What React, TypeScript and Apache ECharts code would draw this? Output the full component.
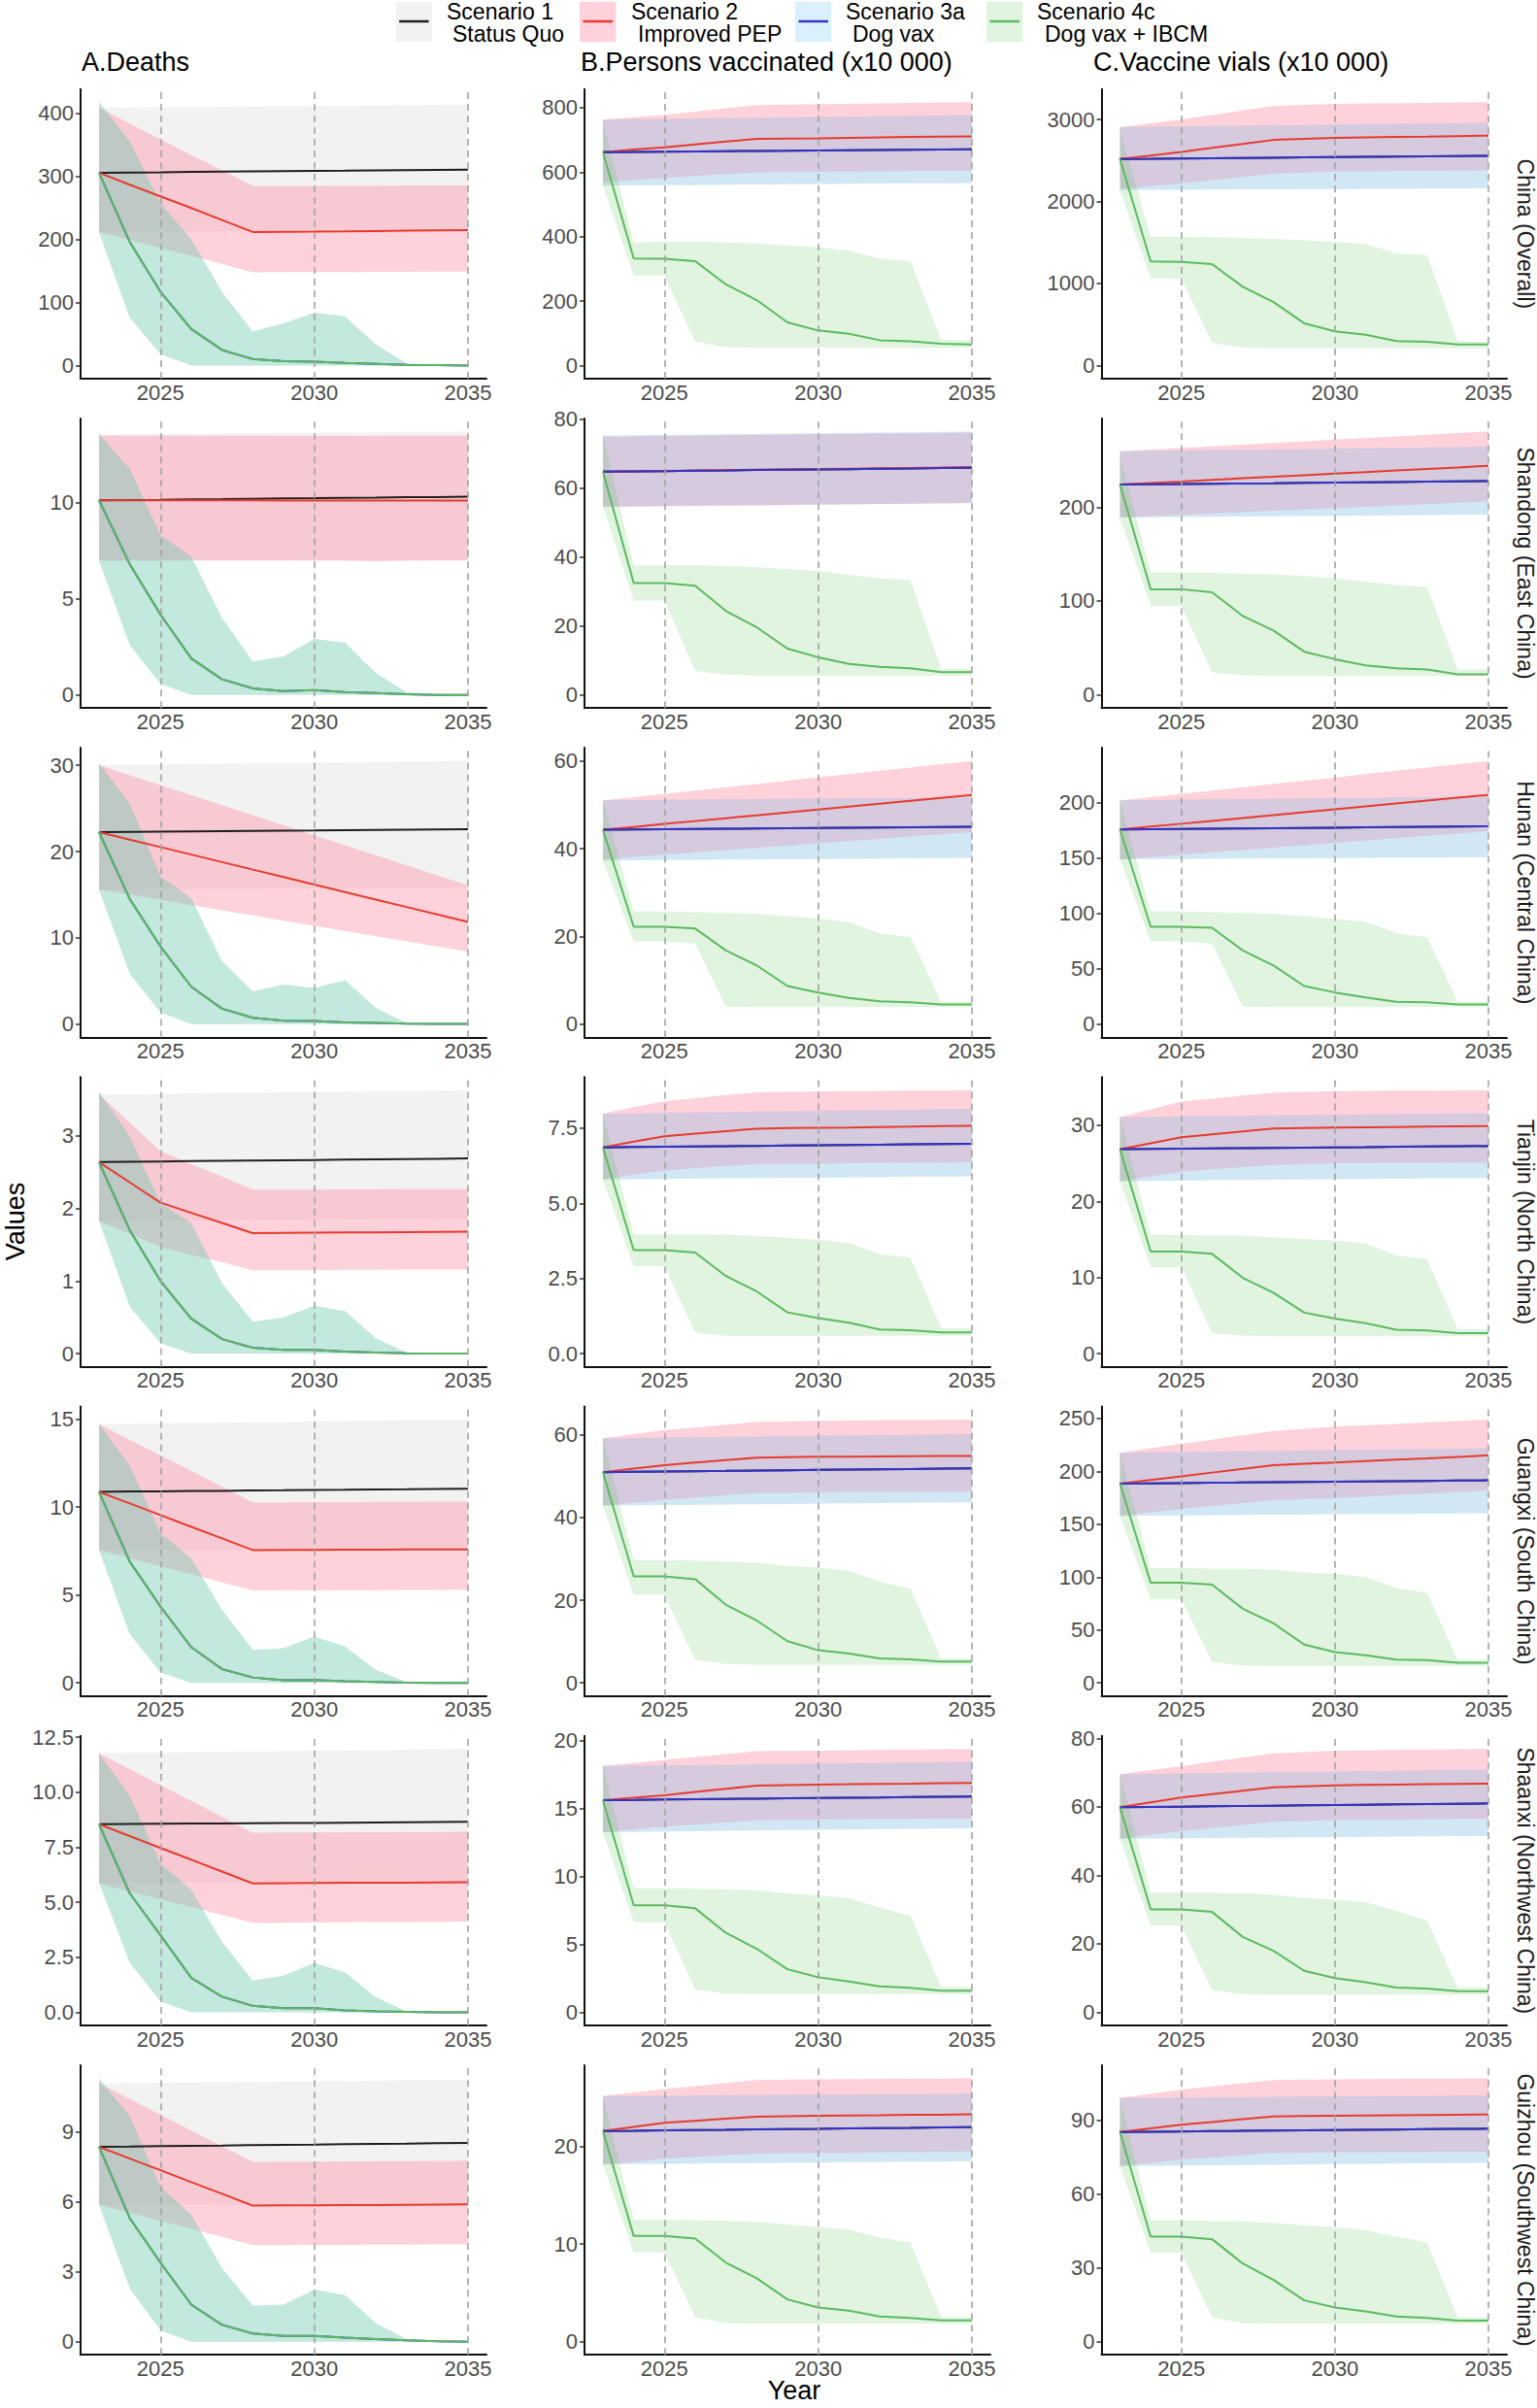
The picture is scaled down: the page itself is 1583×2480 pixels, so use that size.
import React, { useEffect, useRef } from "react";
import * as echarts from "echarts";

// ---------------- DATA ----------------
// Each scenario constant: [mean[], lower[], upper[]] for years 2023..2035
const YEARS = [2023, 2024, 2025, 2026, 2027, 2028, 2029, 2030, 2031, 2032, 2033, 2034, 2035];
const X_TICKS = [2025, 2030, 2035];
const REGIONS = [
  "China (Overall)",
  "Shandong (East China)",
  "Hunan (Central China)",
  "Tianjin (North China)",
  "Guangxi (South China)",
  "Shaanxi (Northwest China)",
  "Guizhou (Southwest China)",
];
const COLUMN_TITLES = ["A.Deaths", "B.Persons vaccinated (x10 000)", "C.Vaccine vials (x10 000)"];
const SCENARIO_LINE1 = ["Scenario 1", "Scenario 2", "Scenario 3a", "Scenario 4c"];
const SCENARIO_LINE2 = ["Status Quo", "Improved PEP", "Dog vax", "Dog vax + IBCM"];

const DEATH_TICKS = [[0, 100, 200, 300, 400], [0, 5, 10], [0, 10, 20, 30], [0, 1, 2, 3], [0, 5, 10, 15], [0, 2.5, 5, 7.5, 10, 12.5], [0, 3, 6, 9]];
const PERSON_TICKS = [[0, 200, 400, 600, 800], [0, 20, 40, 60, 80], [0, 20, 40, 60], [0, 2.5, 5, 7.5], [0, 20, 40, 60], [0, 5, 10, 15, 20], [0, 10, 20]];
const VIAL_TICKS = [[0, 1000, 2000, 3000], [0, 100, 200], [0, 50, 100, 150, 200, 250], [0, 10, 20, 30], [0, 50, 100, 150, 200, 250], [0, 20, 40, 60, 80], [0, 30, 60, 90]];

// ---- China ----
const CN_D_S1 = [
  [306, 306.4, 306.8, 307.3, 307.7, 308.1, 308.5, 308.9, 309.3, 309.8, 310.2, 310.6, 311],
  [212, 212.3, 212.5, 212.8, 213, 213.3, 213.5, 213.8, 214, 214.3, 214.5, 214.8, 215],
  [409, 409.4, 409.9, 410.3, 410.7, 411.2, 411.6, 412, 412.4, 412.9, 413.3, 413.7, 414],
];
const CN_D_S2 = [
  [306, 287, 268.5, 250, 231, 212, 212.3, 212.6, 213, 213.5, 214, 214.5, 215],
  [212, 199, 186.5, 174, 161, 148, 148.1, 148.3, 148.4, 148.6, 148.7, 148.9, 149],
  [409, 384, 359, 334, 310, 285, 285, 285.2, 285.4, 285.6, 285.8, 286, 286],
];
const CN_D_S34 = [
  [306, 196, 117, 58, 24.7, 10.3, 6.7, 6.2, 4, 2.6, 1, 0.5, 0],
  [211, 76, 18, 0, 0, 0, 0, 0, 0, 0, 0, 0, 0],
  [418, 355.7, 257, 200.5, 116.7, 54, 67, 84, 78, 33.4, 3.6, 1, 0],
];
const CN_P_S13 = [
  [662, 662.8, 663.5, 664.3, 665, 665.8, 666.5, 667.3, 668, 668.8, 669.5, 670.3, 671],
  [558.5, 559.2, 559.8, 560.5, 561.2, 561.8, 562.5, 563.2, 563.8, 564.5, 565.2, 565.8, 566.5],
  [763, 764.2, 765.3, 766.5, 767.7, 768.8, 770, 771.2, 772.3, 773.5, 774.7, 775.8, 777],
];
const CN_P_S2 = [
  [662, 670, 677, 686, 695, 703, 704, 705, 706.5, 708, 709, 710, 711],
  [568, 575, 582, 588, 594, 599, 600, 601, 601.5, 602, 603, 603.5, 604],
  [763, 770, 778, 788, 798, 808, 809.5, 811, 812, 813.5, 815, 816, 817],
];
const CN_P_S4 = [
  [662, 332, 331, 324, 251.6, 203, 134, 108.7, 98.6, 78.5, 75.5, 67.4, 65.4],
  [558, 279, 279, 74, 57, 55, 55, 55, 55, 55, 55, 55, 55],
  [757, 382, 384, 385, 382, 379, 372, 367, 357, 332, 324, 80, 78.5],
];
const CN_V_S13 = [
  [2517, 2520, 2524, 2527, 2530, 2533, 2537, 2540, 2543, 2546, 2550, 2553, 2556],
  [2140, 2142, 2143, 2145, 2147, 2148, 2150, 2152, 2153, 2155, 2157, 2158, 2160],
  [2905, 2910, 2914, 2919, 2923, 2928, 2933, 2937, 2942, 2946, 2951, 2955, 2960],
];
const CN_V_S2 = [
  [2517, 2560, 2604, 2653, 2701, 2750, 2762, 2774, 2780, 2786, 2791, 2797, 2802],
  [2155, 2187, 2219, 2259, 2298, 2338, 2352, 2366, 2368, 2371, 2373, 2376, 2378],
  [2905, 2952, 3000, 3054, 3109, 3163, 3177, 3190, 3194, 3198, 3202, 3206, 3210],
];
const CN_V_S4 = [
  [2517, 1268, 1264, 1236, 960, 773, 515, 416, 376, 297, 289, 258, 258],
  [2140, 1058, 1058, 277, 218, 210, 210, 210, 210, 210, 210, 210, 210],
  [2873, 1569, 1569, 1565, 1557, 1545, 1526, 1506, 1486, 1367, 1347, 297, 289],
];

// ---- Shandong ----
const SD_D_S1 = [
  [10.13, 10.15, 10.16, 10.18, 10.19, 10.21, 10.23, 10.24, 10.26, 10.27, 10.29, 10.3, 10.32],
  [7.0, 7.0, 7.0, 7.01, 7.01, 7.01, 7.02, 7.02, 7.02, 7.02, 7.03, 7.03, 7.03],
  [13.57, 13.58, 13.59, 13.6, 13.62, 13.63, 13.64, 13.65, 13.66, 13.67, 13.69, 13.7, 13.71],
];
const SD_D_S2 = [
  [10.13, 10.13, 10.13, 10.13, 10.13, 10.13, 10.12, 10.12, 10.12, 10.12, 10.12, 10.12, 10.12],
  [7.0, 7.0, 7.0, 7.0, 7.0, 7.0, 7.0, 6.99, 6.98, 6.96, 6.98, 7.0, 7.0],
  [13.49, 13.49, 13.49, 13.49, 13.49, 13.49, 13.49, 13.49, 13.49, 13.49, 13.49, 13.49, 13.49],
];
const SD_D_S34 = [
  [10.13, 6.8, 4.18, 1.9, 0.81, 0.34, 0.2, 0.25, 0.15, 0.1, 0.03, 0, 0],
  [7.0, 2.58, 0.56, 0, 0, 0, 0, 0, 0, 0, 0, 0, 0],
  [13.57, 11.77, 8.31, 7.2, 4.0, 1.74, 2.0, 2.92, 2.71, 1.15, 0.13, 0.02, 0],
];
const SD_P_S13 = [
  [64.66, 64.76, 64.85, 64.95, 65.04, 65.14, 65.23, 65.33, 65.42, 65.52, 65.61, 65.71, 65.8],
  [54.6, 54.68, 54.77, 54.85, 54.93, 55.02, 55.1, 55.18, 55.27, 55.35, 55.43, 55.52, 55.6],
  [75.1, 75.2, 75.3, 75.4, 75.5, 75.6, 75.7, 75.8, 75.9, 76.0, 76.1, 76.2, 76.3],
];
const SD_P_S2 = [
  [64.66, 64.77, 64.88, 64.99, 65.1, 65.22, 65.33, 65.44, 65.55, 65.66, 65.77, 65.88, 66.0],
  [54.4, 54.5, 54.6, 54.7, 54.8, 54.9, 55.0, 55.1, 55.2, 55.3, 55.4, 55.5, 55.6],
  [74.8, 74.9, 75.0, 75.1, 75.2, 75.3, 75.4, 75.5, 75.6, 75.7, 75.8, 75.9, 76.0],
];
const SD_P_S4 = [
  [64.66, 32.4, 32.4, 31.6, 24.3, 19.6, 13.4, 10.9, 9.0, 8.1, 7.7, 6.6, 6.6],
  [54.6, 27.3, 27.3, 6.9, 5.9, 5.5, 5.5, 5.5, 5.5, 5.5, 5.5, 5.5, 5.5],
  [75, 37.7, 37.7, 37.6, 37.3, 37.0, 36.5, 35.9, 34.8, 33.7, 33.4, 7.5, 7.5],
];
const SD_V_S13 = [
  [224, 224.3, 224.6, 224.9, 225.2, 225.5, 225.9, 226.2, 226.5, 226.8, 227.1, 227.4, 227.7],
  [189, 189.3, 189.5, 189.8, 190, 190.3, 190.5, 190.8, 191, 191.3, 191.5, 191.8, 192],
  [259.5, 259.9, 260.3, 260.7, 261.1, 261.5, 261.9, 262.3, 262.7, 263.1, 263.5, 263.9, 264.5],
];
const SD_V_S2 = [
  [224, 225.7, 227.3, 229, 230.7, 232.3, 234, 235.7, 237.3, 239, 240.7, 242.3, 244],
  [189, 190.4, 191.8, 193.3, 194.7, 196.1, 197.5, 198.9, 200.3, 201.8, 203.2, 204.6, 206],
  [259.5, 261.3, 263, 264.8, 266.5, 268.3, 270, 271.8, 273.5, 275.3, 277, 278.8, 280.5],
];
const SD_V_S4 = [
  [224, 112.5, 112.5, 109.3, 84, 68.5, 46, 38, 31.5, 28.4, 27, 21.8, 21.8],
  [189, 94.8, 94.8, 24, 20.8, 20, 20, 20, 20, 20, 20, 20, 20],
  [255, 130.4, 130.4, 130, 129, 128.4, 126.6, 123.9, 120.4, 117, 115, 27, 27],
];

// ---- Hunan ----
const HN_D_S1 = [
  [22.25, 22.28, 22.31, 22.34, 22.37, 22.4, 22.43, 22.45, 22.48, 22.51, 22.54, 22.57, 22.6],
  [15.6, 15.62, 15.63, 15.65, 15.67, 15.68, 15.7, 15.72, 15.73, 15.75, 15.77, 15.78, 15.8],
  [30.0, 30.04, 30.08, 30.13, 30.17, 30.21, 30.25, 30.29, 30.33, 30.38, 30.42, 30.46, 30.5],
];
const HN_D_S2 = [
  [22.25, 21.38, 20.52, 19.65, 18.78, 17.91, 17.05, 16.18, 15.31, 14.44, 13.58, 12.71, 11.84],
  [15.6, 15.0, 14.4, 13.8, 13.2, 12.6, 12.0, 11.4, 10.8, 10.2, 9.6, 9.0, 8.4],
  [30.0, 28.84, 27.68, 26.53, 25.37, 24.21, 23.05, 21.89, 20.73, 19.58, 18.42, 17.26, 16.1],
];
const HN_D_S34 = [
  [22.25, 14.5, 9.0, 4.34, 1.8, 0.75, 0.41, 0.37, 0.22, 0.15, 0.07, 0.04, 0.03],
  [15.6, 5.84, 1.35, 0, 0, 0, 0, 0, 0, 0, 0, 0, 0],
  [30.2, 25.5, 17.1, 14.6, 7.3, 3.8, 4.6, 4.2, 5.1, 1.9, 0.15, 0.05, 0],
];
const HN_P_S13 = [
  [44.3, 44.36, 44.42, 44.48, 44.53, 44.59, 44.65, 44.71, 44.77, 44.83, 44.88, 44.94, 45.0],
  [37.3, 37.35, 37.4, 37.45, 37.5, 37.55, 37.6, 37.65, 37.7, 37.75, 37.8, 37.85, 37.9],
  [51.0, 51.06, 51.12, 51.18, 51.23, 51.29, 51.35, 51.41, 51.47, 51.53, 51.58, 51.64, 51.7],
];
const HN_P_S2 = [
  [44.3, 44.96, 45.63, 46.29, 46.95, 47.61, 48.28, 48.94, 49.6, 50.26, 50.93, 51.59, 52.25],
  [37.6, 38.12, 38.63, 39.15, 39.67, 40.18, 40.7, 41.22, 41.73, 42.25, 42.77, 43.28, 43.8],
  [51, 51.75, 52.5, 53.25, 54, 54.75, 55.5, 56.25, 57, 57.75, 58.5, 59.25, 60],
];
const HN_P_S4 = [
  [44.3, 22.2, 22.2, 21.8, 16.8, 13.4, 8.7, 7.2, 6.0, 5.2, 5.0, 4.5, 4.5],
  [37.3, 18.9, 18.9, 18.4, 4.0, 3.9, 3.9, 3.9, 3.9, 3.9, 3.9, 3.9, 3.9],
  [51, 25.7, 25.7, 25.5, 25.4, 25.2, 24.6, 24.1, 23.3, 20.7, 19.9, 5.1, 5.1],
];
const HN_V_S13 = [
  [176, 176.24, 176.48, 176.73, 176.97, 177.21, 177.45, 177.69, 177.93, 178.18, 178.42, 178.66, 178.9],
  [149, 149.17, 149.33, 149.5, 149.67, 149.83, 150, 150.17, 150.33, 150.5, 150.67, 150.83, 151],
  [202.3, 202.6, 202.9, 203.2, 203.5, 203.8, 204.1, 204.3, 204.6, 204.9, 205.2, 205.5, 205.8],
];
const HN_V_S2 = [
  [176, 178.6, 181.2, 183.8, 186.4, 189, 191.7, 194.3, 196.9, 199.5, 202.1, 204.7, 207.3],
  [149, 151.1, 153.3, 155.4, 157.5, 159.6, 161.8, 163.9, 166, 168.1, 170.3, 172.4, 174.5],
  [202.3, 205.3, 208.3, 211.2, 214.2, 217.2, 220.2, 223.1, 226.1, 229.1, 232.1, 235, 238],
];
const HN_V_S4 = [
  [176, 88.1, 88.1, 87.2, 66.7, 53, 34.5, 28.7, 24.3, 20.2, 19.9, 17.9, 17.9],
  [149, 74.9, 74.9, 72.9, 15.8, 15.5, 15.5, 15.5, 15.5, 15.5, 15.5, 15.5, 15.5],
  [202, 101.9, 101.9, 101.3, 100.7, 99.8, 97.8, 95.4, 92.5, 82.3, 78.7, 20.2, 20.2],
];

// ---- Tianjin ----
const TJ_D_S1 = [
  [2.64, 2.644, 2.648, 2.653, 2.657, 2.661, 2.665, 2.669, 2.673, 2.678, 2.682, 2.686, 2.69],
  [1.83, 1.833, 1.835, 1.838, 1.84, 1.843, 1.845, 1.848, 1.85, 1.853, 1.855, 1.858, 1.86],
  [3.57, 3.575, 3.58, 3.585, 3.59, 3.595, 3.6, 3.605, 3.61, 3.615, 3.62, 3.625, 3.63],
];
const TJ_D_S2 = [
  [2.64, 2.36, 2.08, 1.94, 1.8, 1.66, 1.663, 1.666, 1.669, 1.671, 1.674, 1.677, 1.68],
  [1.82, 1.65, 1.47, 1.36, 1.26, 1.15, 1.15, 1.15, 1.155, 1.155, 1.16, 1.16, 1.16],
  [3.57, 3.18, 2.79, 2.61, 2.44, 2.26, 2.26, 2.26, 2.265, 2.265, 2.27, 2.27, 2.27],
];
const TJ_D_S34 = [
  [2.64, 1.7, 1.0, 0.48, 0.2, 0.08, 0.05, 0.05, 0.027, 0.013, 0.005, 0, 0],
  [1.83, 0.65, 0.14, 0, 0, 0, 0, 0, 0, 0, 0, 0, 0],
  [3.61, 2.99, 2.07, 1.8, 0.97, 0.44, 0.5, 0.66, 0.585, 0.21, 0.013, 0, 0],
];
const TJ_P_S13 = [
  [6.86, 6.87, 6.88, 6.89, 6.9, 6.91, 6.92, 6.93, 6.94, 6.95, 6.96, 6.97, 6.98],
  [5.79, 5.8, 5.81, 5.82, 5.83, 5.84, 5.85, 5.85, 5.86, 5.87, 5.88, 5.89, 5.9],
  [7.98, 7.99, 8.01, 8.02, 8.03, 8.05, 8.06, 8.07, 8.09, 8.1, 8.11, 8.13, 8.14],
];
const TJ_P_S2 = [
  [6.86, 7.05, 7.23, 7.32, 7.4, 7.48, 7.5, 7.51, 7.52, 7.54, 7.55, 7.57, 7.58],
  [5.79, 5.95, 6.08, 6.17, 6.24, 6.3, 6.31, 6.32, 6.33, 6.34, 6.35, 6.36, 6.37],
  [7.98, 8.2, 8.39, 8.5, 8.6, 8.69, 8.71, 8.72, 8.73, 8.74, 8.75, 8.75, 8.76],
];
const TJ_P_S4 = [
  [6.86, 3.44, 3.44, 3.36, 2.58, 2.07, 1.37, 1.18, 1.03, 0.8, 0.78, 0.7, 0.7],
  [5.79, 2.91, 2.91, 0.7, 0.59, 0.59, 0.59, 0.59, 0.59, 0.59, 0.59, 0.59, 0.59],
  [7.98, 3.97, 3.97, 3.97, 3.95, 3.92, 3.85, 3.79, 3.68, 3.3, 3.2, 0.84, 0.84],
];
const TJ_V_S13 = [
  [26.85, 26.89, 26.92, 26.96, 26.99, 27.03, 27.06, 27.1, 27.13, 27.17, 27.2, 27.24, 27.27],
  [22.66, 22.7, 22.73, 22.77, 22.8, 22.84, 22.88, 22.91, 22.95, 22.98, 23.02, 23.05, 23.09],
  [31.07, 31.11, 31.16, 31.2, 31.25, 31.29, 31.34, 31.38, 31.42, 31.47, 31.51, 31.56, 31.6],
];
const TJ_V_S2 = [
  [26.85, 27.64, 28.43, 28.81, 29.2, 29.58, 29.64, 29.7, 29.74, 29.78, 29.82, 29.86, 29.9],
  [22.66, 23.28, 23.9, 24.2, 24.5, 24.8, 24.9, 25.0, 25.02, 25.04, 25.06, 25.08, 25.1],
  [31.07, 32.09, 33.1, 33.5, 33.9, 34.3, 34.4, 34.5, 34.52, 34.54, 34.56, 34.58, 34.6],
];
const TJ_V_S4 = [
  [26.85, 13.4, 13.4, 13.1, 9.95, 8.0, 5.38, 4.6, 4.0, 3.12, 3.03, 2.7, 2.7],
  [22.66, 11.35, 11.35, 2.7, 2.35, 2.26, 2.26, 2.26, 2.26, 2.26, 2.26, 2.26, 2.26],
  [31.07, 15.6, 15.6, 15.5, 15.5, 15.25, 15.05, 14.85, 14.5, 12.9, 12.4, 3.2, 3.2],
];

// ---- Guangxi ----
const GX_D_S1 = [
  [10.87, 10.89, 10.9, 10.92, 10.93, 10.95, 10.96, 10.98, 10.99, 11.01, 11.02, 11.04, 11.05],
  [7.56, 7.56, 7.57, 7.57, 7.57, 7.58, 7.58, 7.58, 7.59, 7.59, 7.59, 7.6, 7.6],
  [14.72, 14.74, 14.76, 14.79, 14.81, 14.83, 14.85, 14.87, 14.89, 14.92, 14.94, 14.96, 14.98],
];
const GX_D_S2 = [
  [10.87, 10.21, 9.55, 8.88, 8.22, 7.56, 7.57, 7.57, 7.58, 7.58, 7.59, 7.59, 7.6],
  [7.56, 7.1, 6.64, 6.18, 5.72, 5.26, 5.27, 5.27, 5.28, 5.28, 5.29, 5.29, 5.3],
  [14.72, 13.83, 12.94, 12.06, 11.17, 10.28, 10.28, 10.29, 10.29, 10.3, 10.3, 10.31, 10.31],
];
const GX_D_S34 = [
  [10.87, 6.9, 4.34, 2.03, 0.79, 0.31, 0.15, 0.17, 0.09, 0.06, 0.02, 0, 0],
  [7.56, 2.77, 0.59, 0, 0, 0, 0, 0, 0, 0, 0, 0, 0],
  [14.72, 12.36, 8.52, 7.1, 4.15, 1.88, 1.97, 2.64, 2.07, 0.74, 0.06, 0, 0],
];
const GX_P_S13 = [
  [51.0, 51.08, 51.15, 51.23, 51.3, 51.38, 51.45, 51.53, 51.6, 51.68, 51.75, 51.83, 51.9],
  [42.9, 42.97, 43.03, 43.1, 43.17, 43.23, 43.3, 43.37, 43.43, 43.5, 43.57, 43.63, 43.7],
  [59.2, 59.28, 59.37, 59.45, 59.53, 59.62, 59.7, 59.78, 59.87, 59.95, 60.03, 60.12, 60.2],
];
const GX_P_S2 = [
  [51.0, 51.85, 52.7, 53.3, 53.9, 54.5, 54.6, 54.7, 54.75, 54.8, 54.85, 54.9, 54.9],
  [42.9, 43.6, 44.3, 44.8, 45.4, 45.9, 46.0, 46.1, 46.14, 46.18, 46.22, 46.26, 46.3],
  [59.2, 60.2, 61.2, 61.8, 62.5, 63.1, 63.25, 63.4, 63.46, 63.52, 63.58, 63.64, 63.7],
];
const GX_P_S4 = [
  [51.0, 25.76, 25.76, 25.1, 18.9, 15.1, 10.1, 7.9, 7.1, 5.95, 5.7, 5.17, 5.17],
  [42.9, 21.4, 21.4, 5.56, 4.6, 4.4, 4.4, 4.4, 4.4, 4.4, 4.4, 4.4, 4.4],
  [59.2, 29.7, 29.7, 29.6, 29.4, 29.05, 28.3, 27.9, 27.1, 24.5, 22.8, 5.95, 5.95],
];
const GX_V_S13 = [
  [188.5, 188.76, 189.02, 189.28, 189.53, 189.79, 190.05, 190.31, 190.57, 190.83, 191.08, 191.34, 191.6],
  [158, 158.2, 158.4, 158.6, 158.8, 159, 159.25, 159.45, 159.65, 159.85, 160.1, 160.3, 160.5],
  [217.7, 218.1, 218.4, 218.8, 219.1, 219.5, 219.9, 220.2, 220.6, 220.9, 221.3, 221.6, 222],
];
const GX_V_S2 = [
  [188.5, 191.9, 195.3, 198.9, 202.4, 206, 207.3, 208.5, 209.8, 211.1, 212.4, 213.8, 215.2],
  [158, 161.3, 164.5, 167.3, 170, 172.8, 173.8, 174.7, 176.2, 177.6, 179.1, 180.5, 182],
  [217.7, 221.9, 226, 230.1, 234.2, 238.3, 240.3, 242.3, 243.6, 245, 246.3, 247.7, 249],
];
const GX_V_S4 = [
  [188.5, 94.7, 94.7, 92.9, 70.1, 56.3, 36.3, 29.2, 26.1, 22.1, 21.5, 19.1, 19.1],
  [158, 79, 79, 20, 16.3, 16, 16, 16, 16, 16, 16, 16, 16],
  [217.7, 108.5, 108.5, 108.2, 108, 107, 104.5, 103, 100, 89.8, 85.2, 22.1, 22.1],
];

// ---- Shaanxi ----
const SX_D_S1 = [
  [8.54, 8.55, 8.56, 8.57, 8.58, 8.59, 8.6, 8.6, 8.61, 8.62, 8.63, 8.64, 8.65],
  [5.88, 5.88, 5.88, 5.89, 5.89, 5.89, 5.89, 5.89, 5.89, 5.9, 5.9, 5.9, 5.9],
  [11.76, 11.78, 11.79, 11.81, 11.83, 11.84, 11.86, 11.88, 11.89, 11.91, 11.93, 11.94, 11.96],
];
const SX_D_S2 = [
  [8.54, 8.0, 7.46, 6.93, 6.39, 5.85, 5.86, 5.87, 5.88, 5.89, 5.89, 5.9, 5.91],
  [5.85, 5.49, 5.13, 4.78, 4.42, 4.06, 4.07, 4.08, 4.09, 4.1, 4.1, 4.11, 4.12],
  [11.76, 11.04, 10.32, 9.6, 8.88, 8.16, 8.17, 8.17, 8.18, 8.18, 8.19, 8.19, 8.2],
];
const SX_D_S34 = [
  [8.54, 5.4, 3.5, 1.56, 0.71, 0.29, 0.19, 0.19, 0.09, 0.04, 0.015, 0, 0],
  [5.88, 2.25, 0.49, 0, 0, 0, 0, 0, 0, 0, 0, 0, 0],
  [11.76, 9.82, 6.74, 5.56, 3.2, 1.44, 1.66, 2.25, 1.81, 0.68, 0.04, 0, 0],
];
const SX_P_S13 = [
  [15.63, 15.65, 15.68, 15.7, 15.72, 15.74, 15.77, 15.79, 15.81, 15.83, 15.86, 15.88, 15.9],
  [13.27, 13.29, 13.32, 13.34, 13.37, 13.39, 13.42, 13.44, 13.46, 13.49, 13.51, 13.54, 13.56],
  [18.14, 18.17, 18.19, 18.22, 18.24, 18.27, 18.3, 18.32, 18.35, 18.37, 18.4, 18.42, 18.45],
];
const SX_P_S2 = [
  [15.63, 15.81, 15.99, 16.23, 16.46, 16.7, 16.74, 16.78, 16.8, 16.83, 16.85, 16.88, 16.9],
  [13.27, 13.48, 13.68, 13.84, 13.99, 14.15, 14.18, 14.2, 14.21, 14.23, 14.24, 14.26, 14.27],
  [18.14, 18.37, 18.6, 18.81, 19.03, 19.24, 19.26, 19.28, 19.3, 19.33, 19.35, 19.38, 19.4],
];
const SX_P_S4 = [
  [15.63, 7.88, 7.88, 7.66, 5.85, 4.68, 3.17, 2.58, 2.27, 1.91, 1.81, 1.58, 1.58],
  [13.27, 6.63, 6.63, 1.67, 1.38, 1.34, 1.34, 1.34, 1.34, 1.34, 1.34, 1.34, 1.34],
  [18.14, 9.14, 9.14, 9.12, 9.07, 8.97, 8.78, 8.6, 8.42, 7.71, 7.11, 1.86, 1.86],
];
const SX_V_S13 = [
  [59.86, 59.96, 60.05, 60.15, 60.24, 60.34, 60.43, 60.53, 60.62, 60.72, 60.81, 60.91, 61.0],
  [50.7, 50.77, 50.83, 50.9, 50.97, 51.03, 51.1, 51.17, 51.23, 51.3, 51.37, 51.43, 51.5],
  [69.5, 69.62, 69.73, 69.85, 69.97, 70.08, 70.2, 70.32, 70.43, 70.55, 70.67, 70.78, 70.9],
];
const SX_V_S2 = [
  [59.86, 61.3, 62.7, 63.7, 64.7, 65.7, 66.0, 66.3, 66.4, 66.5, 66.6, 66.7, 66.8],
  [50.7, 51.8, 52.95, 53.8, 54.7, 55.6, 55.85, 56.1, 56.18, 56.26, 56.34, 56.42, 56.5],
  [69.5, 70.7, 71.9, 73.2, 74.4, 75.65, 76.0, 76.4, 76.5, 76.6, 76.7, 76.8, 76.9],
];
const SX_V_S4 = [
  [59.86, 30.07, 30.07, 29.3, 22.0, 17.97, 12.1, 10.0, 8.8, 7.19, 6.9, 6.15, 6.15],
  [50.7, 25.3, 25.3, 6.43, 5.3, 5.1, 5.1, 5.1, 5.1, 5.1, 5.1, 5.1, 5.1],
  [69.5, 35, 35, 34.9, 34.8, 34.4, 33.4, 32.9, 32.2, 29.6, 26.8, 7.19, 7.19],
];

// ---- Guizhou ----
const GZ_D_S1 = [
  [8.37, 8.38, 8.4, 8.41, 8.42, 8.44, 8.45, 8.46, 8.48, 8.49, 8.5, 8.52, 8.53],
  [5.88, 5.88, 5.88, 5.88, 5.88, 5.88, 5.87, 5.87, 5.87, 5.87, 5.87, 5.87, 5.87],
  [11.09, 11.1, 11.12, 11.13, 11.14, 11.15, 11.17, 11.18, 11.19, 11.2, 11.22, 11.23, 11.24],
];
const GZ_D_S2 = [
  [8.37, 7.86, 7.36, 6.85, 6.35, 5.84, 5.85, 5.86, 5.87, 5.87, 5.88, 5.89, 5.9],
  [5.88, 5.53, 5.19, 4.84, 4.5, 4.15, 4.15, 4.16, 4.16, 4.17, 4.17, 4.18, 4.18],
  [11.09, 10.42, 9.74, 9.07, 8.39, 7.72, 7.73, 7.73, 7.74, 7.75, 7.75, 7.76, 7.77],
];
const GZ_D_S34 = [
  [8.37, 5.3, 3.39, 1.59, 0.72, 0.35, 0.25, 0.25, 0.17, 0.11, 0.055, 0.02, 0],
  [5.88, 2.28, 0.48, 0, 0, 0, 0, 0, 0, 0, 0, 0, 0],
  [11.31, 9.68, 6.64, 5.46, 3.15, 1.55, 1.59, 2.24, 2.0, 0.8, 0.11, 0, 0],
];
const GZ_P_S13 = [
  [21.6, 21.63, 21.67, 21.7, 21.73, 21.77, 21.8, 21.83, 21.87, 21.9, 21.93, 21.97, 22.0],
  [18.17, 18.2, 18.23, 18.25, 18.28, 18.31, 18.34, 18.36, 18.39, 18.42, 18.45, 18.47, 18.5],
  [25.17, 25.19, 25.21, 25.24, 25.26, 25.28, 25.3, 25.32, 25.34, 25.37, 25.39, 25.41, 25.43],
];
const GZ_P_S2 = [
  [21.6, 22.02, 22.43, 22.64, 22.86, 23.07, 23.12, 23.17, 23.2, 23.22, 23.25, 23.27, 23.3],
  [18.17, 18.47, 18.77, 18.94, 19.1, 19.27, 19.3, 19.33, 19.36, 19.4, 19.43, 19.47, 19.5],
  [25.17, 25.54, 25.9, 26.21, 26.52, 26.83, 26.87, 26.9, 26.92, 26.94, 26.96, 26.98, 27.0],
];
const GZ_P_S4 = [
  [21.6, 10.83, 10.83, 10.57, 8.1, 6.5, 4.33, 3.5, 3.17, 2.57, 2.43, 2.17, 2.17],
  [18.17, 9.17, 9.17, 2.5, 1.9, 1.83, 1.83, 1.83, 1.83, 1.83, 1.83, 1.83, 1.83],
  [25.17, 12.5, 12.5, 12.47, 12.4, 12.27, 12.0, 11.77, 11.5, 10.67, 10.17, 2.5, 2.5],
];
const GZ_V_S13 = [
  [85.36, 85.47, 85.58, 85.7, 85.81, 85.92, 86.03, 86.14, 86.25, 86.37, 86.48, 86.59, 86.7],
  [71.47, 71.58, 71.69, 71.8, 71.91, 72.02, 72.14, 72.25, 72.36, 72.47, 72.58, 72.69, 72.8],
  [99.26, 99.34, 99.42, 99.5, 99.57, 99.65, 99.73, 99.81, 99.89, 99.97, 100.04, 100.12, 100.2],
];
const GZ_V_S2 = [
  [85.36, 86.8, 88.3, 89.4, 90.6, 91.7, 91.85, 92.0, 92.1, 92.2, 92.3, 92.4, 92.5],
  [71.47, 72.8, 74.1, 75.0, 75.9, 76.8, 76.9, 77.0, 77.08, 77.16, 77.24, 77.32, 77.4],
  [99.26, 100.9, 102.6, 103.9, 105.2, 106.5, 106.65, 106.8, 106.88, 106.96, 107.04, 107.12, 107.2],
];
const GZ_V_S4 = [
  [85.36, 42.75, 42.75, 41.7, 31.8, 25.1, 16.8, 13.9, 12.3, 10.2, 9.66, 8.6, 8.6],
  [71.5, 36.1, 36.1, 9.9, 7.5, 7.3, 7.3, 7.3, 7.3, 7.3, 7.3, 7.3, 7.3],
  [98.6, 49.4, 49.4, 49.2, 49.0, 48.3, 47.4, 46.6, 45.4, 42.75, 40.4, 9.9, 9.9],
];

// Scenario order per panel: [S1 Status Quo, S2 Improved PEP, S3a Dog vax, S4c Dog vax + IBCM]
const DEATHS = [
  [CN_D_S1, CN_D_S2, CN_D_S34, CN_D_S34],
  [SD_D_S1, SD_D_S2, SD_D_S34, SD_D_S34],
  [HN_D_S1, HN_D_S2, HN_D_S34, HN_D_S34],
  [TJ_D_S1, TJ_D_S2, TJ_D_S34, TJ_D_S34],
  [GX_D_S1, GX_D_S2, GX_D_S34, GX_D_S34],
  [SX_D_S1, SX_D_S2, SX_D_S34, SX_D_S34],
  [GZ_D_S1, GZ_D_S2, GZ_D_S34, GZ_D_S34],
];
const PERSONS = [
  [CN_P_S13, CN_P_S2, CN_P_S13, CN_P_S4],
  [SD_P_S13, SD_P_S2, SD_P_S13, SD_P_S4],
  [HN_P_S13, HN_P_S2, HN_P_S13, HN_P_S4],
  [TJ_P_S13, TJ_P_S2, TJ_P_S13, TJ_P_S4],
  [GX_P_S13, GX_P_S2, GX_P_S13, GX_P_S4],
  [SX_P_S13, SX_P_S2, SX_P_S13, SX_P_S4],
  [GZ_P_S13, GZ_P_S2, GZ_P_S13, GZ_P_S4],
];
const VIALS = [
  [CN_V_S13, CN_V_S2, CN_V_S13, CN_V_S4],
  [SD_V_S13, SD_V_S2, SD_V_S13, SD_V_S4],
  [HN_V_S13, HN_V_S2, HN_V_S13, HN_V_S4],
  [TJ_V_S13, TJ_V_S2, TJ_V_S13, TJ_V_S4],
  [GX_V_S13, GX_V_S2, GX_V_S13, GX_V_S4],
  [SX_V_S13, SX_V_S2, SX_V_S13, SX_V_S4],
  [GZ_V_S13, GZ_V_S2, GZ_V_S13, GZ_V_S4],
];

// ---------------- STYLE / LAYOUT ----------------
const FONT = "'Liberation Sans', Arial, Helvetica, sans-serif";
const LINE_COLORS = ["#1e1e1e", "#e63b2e", "#3434c8", "#5cba5f"];
const FILL_COLORS = ["rgba(190,190,190,0.2)", "rgba(255,140,165,0.4)", "rgba(135,206,250,0.3)", "rgba(100,200,100,0.2)"];
const LEGEND_FILLS = ["#f2f2f2", "#ffd1db", "#dbf0fd", "#e0f4e0"];
const COL_LEFT = [83, 602, 1134.5];
const COL_RIGHT = [501, 1020, 1552];
const ROW_TOP0 = 91.7;
const ROW_STEP = 339.2;
const PANEL_H = 298.3;
const LEGEND_BOX_X = [407.6, 597, 819, 1016];
const LEGEND_T1_X = [460, 650, 871, 1068];
const LEGEND_T2_X = [466, 657, 878, 1076];
const TITLE_X = [84, 598, 1126];

function buildOption() {
  const measures = [DEATHS, PERSONS, VIALS];
  const ticksAll = [DEATH_TICKS, PERSON_TICKS, VIAL_TICKS];
  const grid: any[] = [];
  const xAxis: any[] = [];
  const yAxis: any[] = [];
  const series: any[] = [];
  const graphic: any[] = [];

  for (let r = 0; r < 7; r++) {
    for (let c = 0; c < 3; c++) {
      const idx = r * 3 + c;
      const scen = measures[c][r];
      const ticks = ticksAll[c][r];
      let M = 0;
      scen.forEach((s) => s[2].forEach((v) => { if (v > M) M = v; }));
      const decimals = ticks.some((t) => Math.round(t) !== t) ? 1 : 0;
      grid.push({
        left: COL_LEFT[c],
        top: ROW_TOP0 + r * ROW_STEP,
        width: COL_RIGHT[c] - COL_LEFT[c],
        height: PANEL_H,
        containLabel: false,
      });
      xAxis.push({
        gridIndex: idx,
        type: "value",
        min: 2022.4,
        max: 2035.6,
        axisLine: { show: true, onZero: false, lineStyle: { color: "#111", width: 2 } },
        axisTick: { show: false, customValues: X_TICKS },
        splitLine: { show: false },
        axisLabel: {
          customValues: X_TICKS,
          color: "#4d4d4d",
          fontSize: 22,
          fontFamily: FONT,
          margin: 3,
          formatter: (v: number) => String(v),
        },
      });
      yAxis.push({
        gridIndex: idx,
        type: "value",
        min: -0.05 * M,
        max: 1.05 * M,
        axisLine: { show: true, onZero: false, lineStyle: { color: "#111", width: 2 } },
        axisTick: { show: true, length: 5, customValues: ticks, lineStyle: { color: "#333", width: 1.5 } },
        splitLine: { show: false },
        axisLabel: {
          customValues: ticks,
          color: "#4d4d4d",
          fontSize: 22,
          fontFamily: FONT,
          margin: 7,
          formatter: (v: number) => v.toFixed(decimals),
        },
      });

      scen.forEach((s, k) => {
        const fill = FILL_COLORS[k];
        const lo = s[1];
        const hi = s[2];
        // ribbon (lower..upper) drawn as one polygon through the axis scales
        series.push({
          type: "custom",
          xAxisIndex: idx,
          yAxisIndex: idx,
          data: YEARS.map((y, i) => [y, lo[i], hi[i]]),
          encode: { x: 0, y: [1, 2] },
          silent: true,
          renderItem: (params: any, api: any) => {
            if (params.dataIndex !== 0) return { type: "group", children: [] };
            const upper = YEARS.map((y, i) => api.coord([y, hi[i]]));
            const lower = YEARS.map((y, i) => api.coord([y, lo[i]])).reverse();
            return {
              type: "polygon",
              shape: { points: upper.concat(lower) },
              style: { fill, stroke: "none" },
              silent: true,
            };
          },
        });
        const meanSeries: any = {
          type: "line",
          xAxisIndex: idx,
          yAxisIndex: idx,
          data: YEARS.map((y, i) => [y, s[0][i]]),
          symbol: "none",
          lineStyle: { color: LINE_COLORS[k], width: 2 },
          itemStyle: { color: LINE_COLORS[k] },
          silent: true,
          emphasis: { disabled: true },
        };
        if (k === 3) {
          meanSeries.markLine = {
            silent: true,
            symbol: ["none", "none"],
            label: { show: false },
            lineStyle: { color: "#a3a3a3", type: [7, 5], width: 1.6 },
            emphasis: { disabled: true },
            data: X_TICKS.map((t) => ({ xAxis: t })),
          };
        }
        series.push(meanSeries);
      });
    }
    // strip label on the right
    graphic.push({
      type: "text",
      x: 1571,
      y: ROW_TOP0 + r * ROW_STEP + PANEL_H / 2,
      rotation: -Math.PI / 2,
      style: {
        text: REGIONS[r],
        fill: "#1a1a1a",
        fontSize: 23,
        fontFamily: FONT,
        align: "center",
        verticalAlign: "middle",
        textAlign: "center",
        textVerticalAlign: "middle",
      },
    });
  }

  // Column titles
  COLUMN_TITLES.forEach((t, c) => {
    graphic.push({
      type: "text",
      x: TITLE_X[c],
      y: 64,
      style: {
        text: t,
        fill: "#000",
        fontSize: 27,
        fontFamily: FONT,
        align: "left",
        verticalAlign: "middle",
        textAlign: "left",
        textVerticalAlign: "middle",
      },
    });
  });

  // Legend
  for (let k = 0; k < 4; k++) {
    graphic.push({
      type: "rect",
      shape: { x: LEGEND_BOX_X[k], y: 1.7, width: 37.3, height: 41.6 },
      style: { fill: LEGEND_FILLS[k] },
    });
    graphic.push({
      type: "line",
      shape: { x1: LEGEND_BOX_X[k] + 3.5, y1: 22, x2: LEGEND_BOX_X[k] + 34, y2: 22 },
      style: { stroke: LINE_COLORS[k], lineWidth: 2.5 },
    });
    graphic.push({
      type: "text",
      x: LEGEND_T1_X[k],
      y: 12,
      style: {
        text: SCENARIO_LINE1[k], fill: "#000", fontSize: 23, fontFamily: FONT,
        align: "left", verticalAlign: "middle", textAlign: "left", textVerticalAlign: "middle",
      },
    });
    graphic.push({
      type: "text",
      x: LEGEND_T2_X[k],
      y: 35,
      style: {
        text: SCENARIO_LINE2[k], fill: "#000", fontSize: 23, fontFamily: FONT,
        align: "left", verticalAlign: "middle", textAlign: "left", textVerticalAlign: "middle",
      },
    });
  }

  // Axis titles
  graphic.push({
    type: "text",
    x: 16,
    y: 1258,
    rotation: Math.PI / 2,
    style: {
      text: "Values", fill: "#000", fontSize: 27, fontFamily: FONT,
      align: "center", verticalAlign: "middle", textAlign: "center", textVerticalAlign: "middle",
    },
  });
  graphic.push({
    type: "text",
    x: 818,
    y: 2462,
    style: {
      text: "Year", fill: "#000", fontSize: 27, fontFamily: FONT,
      align: "center", verticalAlign: "middle", textAlign: "center", textVerticalAlign: "middle",
    },
  });

  return {
    animation: false,
    backgroundColor: "#ffffff",
    textStyle: { fontFamily: FONT },
    grid,
    xAxis,
    yAxis,
    series,
    graphic,
  };
}

export default function App() {
  const ref = useRef<HTMLDivElement>(null);
  useEffect(() => {
    document.body.style.margin = "0";
    const el = ref.current;
    if (!el) return;
    const chart = echarts.init(el, undefined, { renderer: "svg", width: 1583, height: 2480 });
    chart.setOption(buildOption() as any);
    return () => {
      chart.dispose();
    };
  }, []);
  return <div ref={ref} style={{ width: 1583, height: 2480, background: "#fff" }} />;
}
